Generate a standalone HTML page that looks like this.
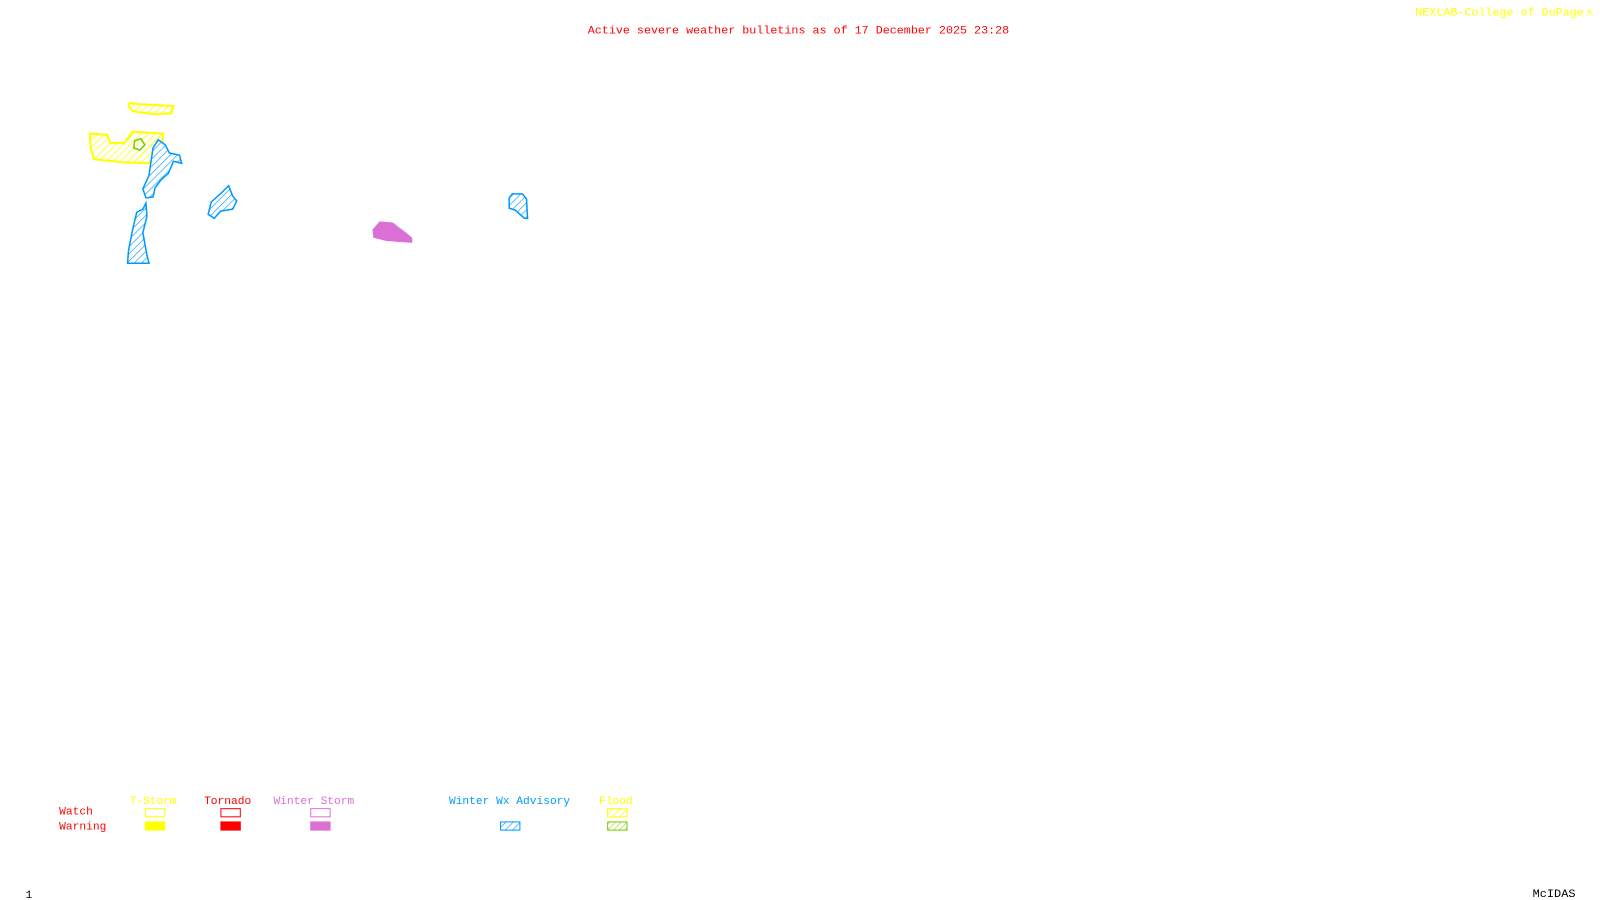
<!DOCTYPE html>
<html><head><meta charset="utf-8"><style>
html,body{margin:0;padding:0;background:#fff;width:1600px;height:900px;overflow:hidden}
svg{display:block}
text{font-family:"Liberation Mono",monospace;font-size:11px}
</style></head><body>
<svg width="1600" height="900" viewBox="0 0 1600 900">
<defs>
<pattern id="hy" width="5" height="5" patternUnits="userSpaceOnUse" patternTransform="rotate(45)"><rect width="5" height="5" fill="#fff"/><line x1="0" y1="0" x2="0" y2="5" stroke="#ffff00" stroke-width="1.5"/></pattern>
<pattern id="hb" width="5" height="5" patternUnits="userSpaceOnUse" patternTransform="rotate(45)"><rect width="5" height="5" fill="#fff"/><line x1="0" y1="0" x2="0" y2="5" stroke="#0099ff" stroke-width="1.2"/></pattern>
<pattern id="hg" width="4" height="4" patternUnits="userSpaceOnUse" patternTransform="rotate(45)"><rect width="4" height="4" fill="#fff"/><line x1="0" y1="0" x2="0" y2="4" stroke="#77cc00" stroke-width="1"/></pattern>
</defs>
<g transform="scale(1.0204)">
<text x="576" y="33" fill="#ff0000" textLength="413" lengthAdjust="spacingAndGlyphs">Active severe weather bulletins as of 17 December 2025 23:28</text>
<text x="1387" y="15" fill="#ffff00" textLength="165" lengthAdjust="spacingAndGlyphs">NEXLAB-College of DuPage</text>
<text x="1555" y="15" fill="#ffff00">⇱</text>
<polygon points="127,101 135,102 170,104 168,111 150,112 130,109 126,104" fill="url(#hy)" stroke="#ffff00" stroke-width="2"/>
<polygon points="88,131 105,132 108,140 122,140 130,129 160,131 158,150 146,160 120,159 92,156 89,146" fill="url(#hy)" stroke="#ffff00" stroke-width="2"/>
<polygon points="132,138 138,136 142,142 137,147 131,145" fill="none" stroke="#77cc00" stroke-width="1.5"/>
<polygon points="155,137 162,142 166,150 176,152 178,160 170,158 165,170 158,176 152,184 150,193 143,194 140,185 146,172 148,158 150,145" fill="url(#hb)" stroke="#0099ff" stroke-width="1.5"/>
<polygon points="143,199 144,212 140,228 144,250 146,258 125,258 126,245 130,225 134,208 140,205" fill="url(#hb)" stroke="#0099ff" stroke-width="1.5"/>
<polygon points="224,182 228,192 232,197 228,205 216,207 210,214 204,210 207,198 216,190" fill="url(#hb)" stroke="#0099ff" stroke-width="1.5"/>
<polygon points="502,190 512,190 516,195 517,214 514,214 505,206 499,204 499,194" fill="url(#hb)" stroke="#0099ff" stroke-width="1.5"/>
<polygon points="372,217 385,218 390,222 398,228 404,233 404,238 390,237 378,236 366,233 365,225" fill="#da70d6"/>
<text x="127" y="788" fill="#ffff00">T-Storm</text>
<text x="200" y="788" fill="#ff0000">Tornado</text>
<text x="268" y="788" fill="#da70d6">Winter Storm</text>
<text x="440" y="788" fill="#0099ff">Winter Wx Advisory</text>
<text x="587" y="788" fill="#ffff00">Flood</text>
<text x="58" y="798" fill="#ff0000">Watch</text>
<text x="58" y="813" fill="#ff0000">Warning</text>
<rect x="142.5" y="792.5" width="19" height="8" fill="none" stroke="#ffff00"/>
<rect x="142" y="805" width="20" height="9" fill="#ffff00"/>
<rect x="216.5" y="792.5" width="19" height="8" fill="none" stroke="#ff0000"/>
<rect x="216" y="805" width="20" height="9" fill="#ff0000"/>
<rect x="304.5" y="792.5" width="19" height="8" fill="none" stroke="#da70d6"/>
<rect x="304" y="805" width="20" height="9" fill="#da70d6"/>
<rect x="490.5" y="805.5" width="19" height="8" fill="url(#hb)" stroke="#0099ff"/>
<rect x="595.5" y="792.5" width="19" height="8" fill="url(#hy)" stroke="#ffff00"/>
<rect x="595.5" y="805.5" width="19" height="8" fill="url(#hg)" stroke="#77cc00"/>
<text x="25" y="880" fill="#000" font-size="10">1</text>
<text x="1502" y="879" fill="#000" font-size="10" textLength="42" lengthAdjust="spacingAndGlyphs">McIDAS</text>
</g>
</svg>
</body></html>
